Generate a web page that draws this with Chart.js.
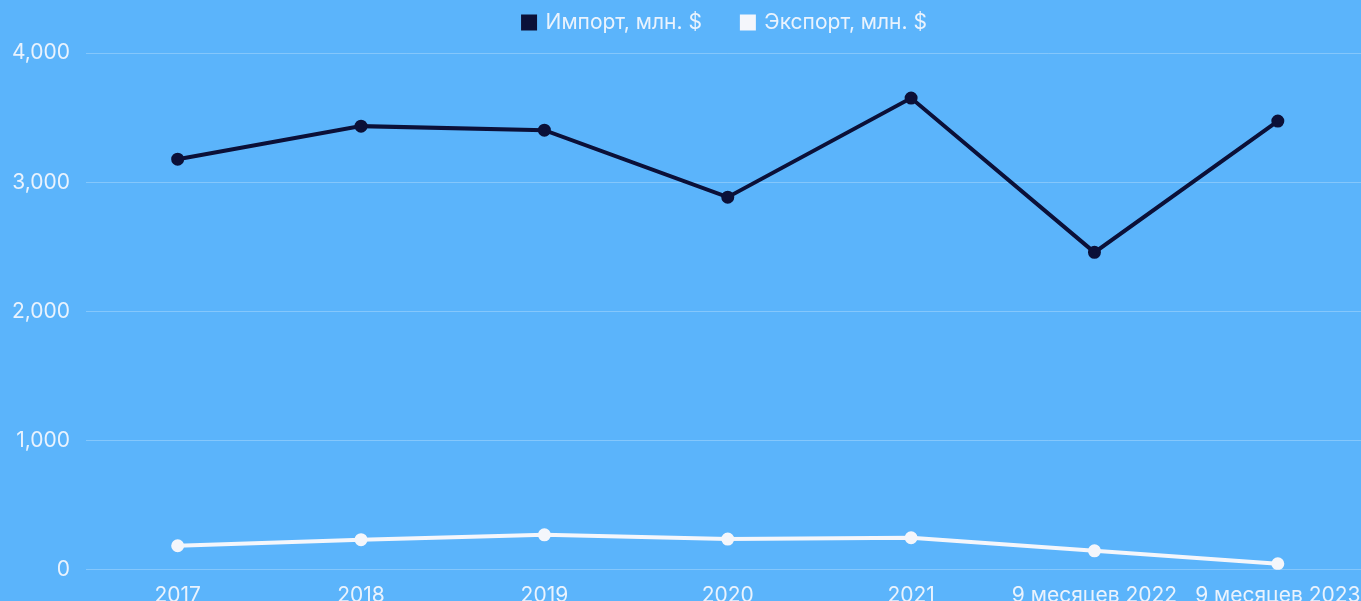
<!DOCTYPE html>
<html>
<head>
<meta charset="utf-8">
<script src="https://cdn.jsdelivr.net/npm/chart.js@4.4.1/dist/chart.umd.min.js"></script>
<style>
html,body{margin:0;padding:0;overflow:hidden;background:#5BB4FB;width:1361px;height:601px;}
#wrap{position:absolute;left:0;top:0;width:1378px;height:621px;}
</style>
</head>
<body>
<div id="wrap"><canvas id="c" width="1378" height="621"></canvas></div>
<script>
const categories = ["2017","2018","2019","2020","2021","9 месяцев 2022","9 месяцев 2023"];
const importValues = [3178, 3434, 3403, 2884, 3651, 2457, 3473];
const exportValues = [186, 233, 271, 238, 248, 147, 47];
const yTicks = [0, 1000, 2000, 3000, 4000];

Chart.defaults.font.family = "Inter, 'Noto Sans', sans-serif";

const legendTweak = {
  id: 'legendTweak',
  beforeInit(chart) {
    const origFit = chart.legend.fit;
    chart.legend.fit = function () {
      origFit.call(this);
      this.height = 53;
    };
  },
  afterLayout(chart) {
    const lg = chart.legend;
    lg.top = -28;
    lg.left += 72;
  }
};

new Chart(document.getElementById('c'), {
  type: 'line',
  data: {
    labels: categories,
    datasets: [
      {label: 'Импорт, млн. $', data: importValues, borderColor: '#0B1038', backgroundColor: '#0B1038',
       borderWidth: 4, pointRadius: 4.5, pointHoverRadius: 4.5, tension: 0},
      {label: 'Экспорт, млн. $', data: exportValues, borderColor: '#F4F6FB', backgroundColor: '#F4F6FB',
       borderWidth: 4, pointRadius: 4.5, pointHoverRadius: 4.5, tension: 0}
    ]
  },
  plugins: [legendTweak],
  options: {
    responsive: false,
    animation: false,
    plugins: {
      legend: {
        position: 'top',
        labels: {color: '#EAF3FD', boxWidth: 12, boxHeight: 12, padding: 40, font: {size: 21}}
      },
      tooltip: {enabled: false}
    },
    scales: {
      x: {
        offset: true,
        grid: {display: false, drawTicks: false},
        border: {display: false},
        ticks: {color: '#EAF3FD', font: {size: 21}, padding: 13, maxRotation: 0, autoSkip: false}
      },
      y: {
        min: 0, max: 4000,
        afterBuildTicks: (s) => { s.ticks = yTicks.map(v => ({value: v})); },
        afterFit: (s) => { s.width = 86; },
        grid: {color: 'rgba(255,255,255,0.25)', drawTicks: false, lineWidth: 1},
        border: {display: false},
        ticks: {color: '#EAF3FD', font: {size: 21}, padding: 16,
                callback: (v) => v.toLocaleString('en-US')}
      }
    }
  }
});
</script>
</body>
</html>
